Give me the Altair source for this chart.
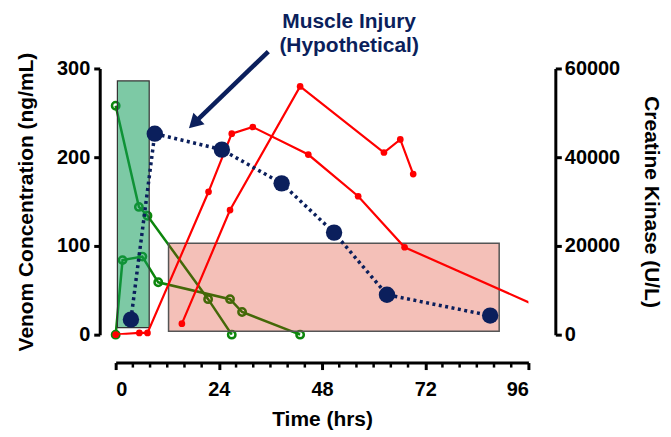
import altair as alt
import pandas as pd

# ---- data ----
# venom concentration series (ng/mL, left axis)
green_a_t = [0, 5.4, 7.4, 21.5, 27.0]
green_a_v = [258, 144, 134, 40, 0]
green_b_t = [0, 1.6, 6.2, 9.9, 26.6, 29.4, 42.9]
green_b_v = [0, 84, 88, 59, 40, 25.5, 0]

# creatine kinase series (U/L, right axis)
red1_t = [0, 5.5, 7.4, 21.6, 27.0, 31.9, 44.8, 56.4, 67.2, 100]
red1_ck = [0, 380, 380, 32200, 45300, 46800, 40600, 31200, 19700, 5600]
red2_t = [15.4, 26.6, 42.9, 62.4, 66.2, 69.2]
red2_ck = [2480, 28080, 55960, 41060, 44000, 36200]
navy_t = [3.55, 9.1, 24.7, 38.6, 50.8, 63.1, 87.1]
navy_ck = [3400, 45300, 41700, 34100, 23000, 9000, 4300]

# shaded windows (time, venom units)
green_box = {"t": [0.4], "t2": [7.8], "v": [8], "v2": [286]}
pink_box = {"t": [12.3], "t2": [89.2], "v": [3.7], "v2": [103]}

# annotation
note_lines = ["Muscle Injury", "(Hypothetical)"]
note_pos = {"t": [54.3], "v": [352]}
arrow = {"t": [35.5], "v": [319], "t2": [18.6], "v2": [240]}

x_major = [0, 24, 48, 72, 96]
x_minor = [4, 8, 12, 16, 20, 28, 32, 36, 40, 44, 52, 56, 60, 64, 68, 76, 80, 84, 88, 92]
left_ticks = [0, 100, 200, 300]
right_ticks = [0, 20000, 40000, 60000]

NAVY = "#0b1f5c"
RED = "#ff0000"
GREEN = "#0c860c"
FONT = "Liberation Sans"

W, H = 414, 267

green_df = pd.concat([
    pd.DataFrame({"t": green_a_t, "v": green_a_v, "s": "A"}),
    pd.DataFrame({"t": green_b_t, "v": green_b_v, "s": "B"}),
])
red_df = pd.concat([
    pd.DataFrame({"t": red1_t, "ck": red1_ck, "s": "R1"}),
    pd.DataFrame({"t": red2_t, "ck": red2_ck, "s": "R2"}),
])
navy_df = pd.DataFrame({"t": navy_t, "ck": navy_ck})

xs = alt.Scale(domain=[0, 96], nice=False)
ys_left = alt.Scale(domain=[0, 300], nice=False)
ys_right = alt.Scale(domain=[0, 60000], nice=False)

x_enc = alt.X("t:Q", scale=xs, axis=alt.Axis(
    values=x_major, title="Time (hrs)", offset=28, tickSize=7, tickWidth=3,
    domainWidth=3, labelPadding=10, titlePadding=9, grid=False))
y_left = alt.Y("v:Q", scale=ys_left, axis=alt.Axis(
    values=left_ticks, title="Venom Concentration (ng/mL)", orient="left",
    offset=16, tickSize=6, tickWidth=3, domainWidth=3, labelPadding=4,
    titlePadding=20, grid=False))

green_base = alt.Chart(green_df).encode(x=x_enc, y=y_left, detail="s:N")
green_lines = green_base.mark_line(color=GREEN, strokeWidth=2.5)
green_pts = green_base.mark_point(shape="circle", filled=False, color=GREEN,
                                  strokeWidth=2.5, size=55, opacity=1)

pink = alt.Chart(pd.DataFrame(pink_box)).mark_rect(
    fill="#d81e00", fillOpacity=0.28, stroke="#555555", strokeWidth=1.5
).encode(x="t:Q", x2="t2:Q", y="v:Q", y2="v2:Q")
greenrect = alt.Chart(pd.DataFrame(green_box)).mark_rect(
    fill="#139d5b", fillOpacity=0.55, stroke="#333333", strokeWidth=1.2
).encode(x="t:Q", x2="t2:Q", y="v:Q", y2="v2:Q")

minor = alt.Chart(pd.DataFrame({"t": x_minor})).mark_rule(
    color="black", strokeWidth=2.5, clip=False
).encode(x="t:Q", y=alt.value(H + 28), y2=alt.value(H + 33))

arrow_line = alt.Chart(pd.DataFrame(arrow)).mark_rule(
    color=NAVY, strokeWidth=4.5, clip=False
).encode(x="t:Q", x2="t2:Q", y="v:Q", y2="v2:Q")
arrow_head = alt.Chart(pd.DataFrame(arrow)).mark_point(
    shape="triangle", filled=True, color=NAVY, size=260, angle=226, opacity=1, clip=False
).encode(x="t2:Q", y="v2:Q")
note = alt.Chart(pd.DataFrame({"t": note_pos["t"], "v": note_pos["v"],
                               "txt": [note_lines]})).mark_text(
    font=FONT, fontSize=21, fontWeight="bold", color=NAVY, lineHeight=24,
    align="center", baseline="middle", clip=False
).encode(x="t:Q", y="v:Q", text="txt")

left = alt.layer(green_lines, green_pts, pink, greenrect, minor,
                 arrow_line, arrow_head, note)

y_right = alt.Y("ck:Q", scale=ys_right, axis=alt.Axis(
    values=right_ticks, title="Creatine Kinase (U/L)", orient="right",
    offset=27, tickSize=6, tickWidth=3, domainWidth=3, labelPadding=3,
    titlePadding=21, format="d", grid=False))

red_base = alt.Chart(red_df).encode(x=alt.X("t:Q", scale=xs), y=y_right, detail="s:N")
red_lines = red_base.mark_line(color=RED, strokeWidth=2.2, clip=True)
red_pts = red_base.transform_filter("datum.t <= 96").mark_circle(
    color=RED, size=45, opacity=1)

navy_base = alt.Chart(navy_df).encode(x=alt.X("t:Q", scale=xs), y=y_right)
navy_line = navy_base.mark_line(color=NAVY, strokeWidth=3.5, strokeDash=[3, 3.5])
navy_pts = navy_base.mark_circle(color=NAVY, size=270, opacity=1)

right = alt.layer(red_lines, red_pts, navy_line, navy_pts)

chart = alt.layer(left, right).resolve_scale(y="independent").properties(
    width=W, height=H,
    padding={"left": 108, "top": 60, "right": 135, "bottom": 100},
    autosize=alt.AutoSizeParams(type="none"),
).configure_axis(
    domainColor="black", tickColor="black", labelColor="black", titleColor="black",
    labelFont=FONT, titleFont=FONT, labelFontSize=20, titleFontSize=21,
    labelFontWeight="bold", titleFontWeight="bold",
).configure_view(stroke=None)

chart.save("out.html", embed_options={"renderer": "svg", "actions": False})
